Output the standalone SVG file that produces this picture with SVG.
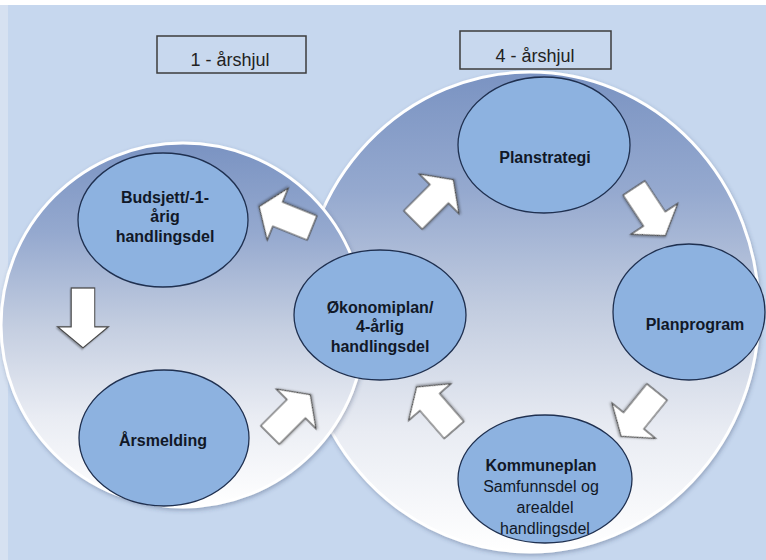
<svg xmlns="http://www.w3.org/2000/svg" xmlns:xlink="http://www.w3.org/1999/xlink" width="766" height="560" viewBox="0 0 766 560">
<defs>
<linearGradient id="wheel" x1="0" y1="0" x2="0" y2="1">
<stop offset="0" stop-color="#7a93c2"/>
<stop offset="0.25" stop-color="#95a9cf"/>
<stop offset="0.5" stop-color="#c3cde0"/>
<stop offset="0.75" stop-color="#e9ecf3"/>
<stop offset="1" stop-color="#ffffff"/>
</linearGradient>
<filter id="sh" x="-10%" y="-10%" width="120%" height="120%">
<feDropShadow dx="1" dy="2" stdDeviation="2" flood-color="#334466" flood-opacity="0.35"/>
</filter>
<filter id="ash" x="-20%" y="-20%" width="140%" height="140%">
<feDropShadow dx="1" dy="1" stdDeviation="0.8" flood-color="#000" flood-opacity="0.35"/>
</filter>
<path id="blk" d="M0,-13 H37 V-28 L57,0 L37,28 V13 H0 Z"/>
<style>
.wheel{fill:url(#wheel);stroke:#ffffff;stroke-width:3;filter:url(#sh)}
.node{fill:#8db2e0;stroke:#1f3050;stroke-width:1.3}
.arrow{fill:#ffffff;stroke:#4a4a4a;stroke-width:1.2;filter:url(#ash)}
.lbl{fill:#111827;font-family:"Liberation Sans",Arial,sans-serif;font-size:16px;font-weight:bold;text-anchor:middle}
.reg{font-weight:normal}
.box{fill:#c8d8ee;stroke:#3c3c3c;stroke-width:1.5}
.boxt{fill:#222;font-family:"Liberation Sans",Arial,sans-serif;font-size:18px;text-anchor:middle}
</style>
</defs>
<rect x="0" y="0" width="766" height="560" fill="#c6d7ee"/>
<rect x="0" y="0" width="8" height="560" fill="#d6e1f1"/>
<rect x="0" y="0" width="766" height="5" fill="#ffffff"/>

<g id="wheel-4">
<ellipse class="wheel" cx="530" cy="312" rx="229" ry="240"/>
</g>
<g id="wheel-1">
<circle class="wheel" cx="183" cy="325" r="182"/>
</g>

<g id="label-1">
<rect class="box" x="157" y="36" width="149" height="37"/>
<text class="boxt" x="230" y="66">1 - årshjul</text>
</g>
<g id="label-4">
<rect class="box" x="460" y="31" width="151" height="38"/>
<text class="boxt" x="535" y="62">4 - årshjul</text>
</g>

<g id="budsjett">
<ellipse class="node" cx="163" cy="220" rx="85" ry="67"/>
<text class="lbl" x="165" y="203">Budsjett/-1-</text>
<text class="lbl" x="165" y="222">årig</text>
<text class="lbl" x="165" y="242">handlingsdel</text>
</g>
<g id="arsmelding">
<ellipse class="node" cx="164" cy="438" rx="85" ry="68"/>
<text class="lbl" x="163" y="446">Årsmelding</text>
</g>
<g id="okonomiplan">
<ellipse class="node" cx="380" cy="315" rx="86" ry="65"/>
<text class="lbl" x="380" y="313">Økonomiplan/</text>
<text class="lbl" x="380" y="332">4-årlig</text>
<text class="lbl" x="380" y="352">handlingsdel</text>
</g>
<g id="planstrategi">
<ellipse class="node" cx="544" cy="145" rx="86" ry="68"/>
<text class="lbl" x="545" y="163">Planstrategi</text>
</g>
<g id="planprogram">
<ellipse class="node" cx="689" cy="312" rx="76" ry="68"/>
<text class="lbl" x="695" y="330">Planprogram</text>
</g>
<g id="kommuneplan">
<ellipse class="node" cx="545" cy="479" rx="87" ry="64"/>
<text class="lbl" x="541" y="471">Kommuneplan</text>
<text class="lbl reg" x="541" y="492">Samfunnsdel og</text>
<text class="lbl reg" x="545" y="513">arealdel</text>
<text class="lbl reg" x="545" y="534">handlingsdel</text>
</g>

<g id="connectors">
<use class="arrow" href="#blk" transform="translate(312,228) rotate(202)"/>
<use class="arrow" href="#blk" transform="translate(413,220) rotate(-45)"/>
<use class="arrow" href="#blk" transform="translate(634,188) rotate(56.6)"/>
<use class="arrow" href="#blk" transform="translate(657,392) rotate(129)"/>
<use class="arrow" href="#blk" transform="translate(454,430) rotate(229)"/>
<use class="arrow" href="#blk" transform="translate(270,435) rotate(-45)"/>
<use class="arrow" href="#blk" transform="translate(83,288) rotate(90) scale(1.05,0.9)"/>
</g>
</svg>
